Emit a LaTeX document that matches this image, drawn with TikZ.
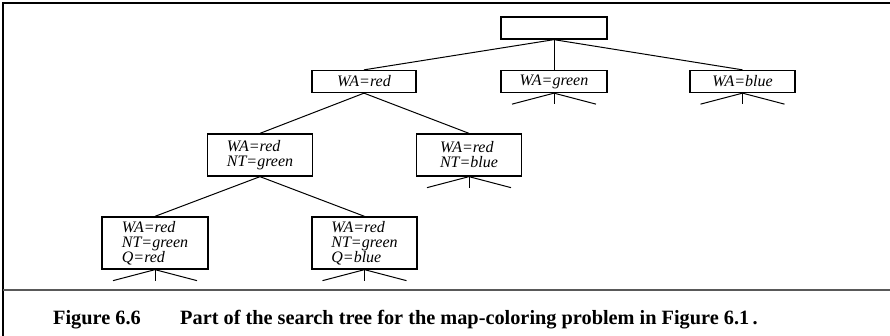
\documentclass[tikz,border=0pt]{standalone}
\usepackage{fontspec}
\setmainfont{Liberation Serif}
\usetikzlibrary{calc}
\begin{document}
\begin{tikzpicture}[x=1pt,y=-1pt,
  tbox/.style={draw, line width=1.3pt, inner sep=0pt, font=\fontsize{16}{15}\selectfont\itshape, align=left, minimum width=105pt},
  hone/.style={minimum height=22pt},
  htwo/.style={minimum height=42pt},
  hthree/.style={minimum height=52pt},
  conn/.style={line width=1pt},
  frameline/.style={line width=1.5pt},
  sepline/.style={line width=2.6pt, draw=black!65},
  capfont/.style={font=\fontsize{20.3}{24}\selectfont\bfseries, inner sep=0pt}]
\useasboundingbox (0,0) rectangle (890,336);
% frame
\coordinate (tl) at (3,3);
\coordinate (tr) at (890,3);
\coordinate (bl) at (3,336);
\coordinate (sl) at (3,290);
\coordinate (sr) at (890,290);
\draw[frameline] (tr) -- (tl) -- (bl);
\draw[sepline] (sl) -- (sr);
% nodes
\node[tbox,hone,minimum width=106pt] (root) at (554,28) {};
\node[tbox,hone,minimum width=104pt] (wared) at (364,81.5) {WA=red};
\node[tbox,hone,minimum width=106pt] (wagreen) at (554,81.5) {WA=green};
\node[tbox,hone] (wablue) at (742.5,81.5) {WA=blue};
\node[tbox,htwo] (ntgreen) at (260,155) {WA=red\\NT=green};
\node[tbox,htwo] (ntblue) at (469,155) {WA=red\\NT=blue};
\node[tbox,hthree,minimum width=106pt] (qred) at (155,243) {WA=red\\NT=green\\Q=red};
\node[tbox,hthree] (qblue) at (364.5,243) {WA=red\\NT=green\\Q=blue};
% connectors
\draw[conn] (root.south) -- (wared.north);
\draw[conn] (root.south) -- (wagreen.north);
\draw[conn] (root.south) -- (wablue.north);
\draw[conn] (wared.south) -- (ntgreen.north);
\draw[conn] (wared.south) -- (ntblue.north);
\draw[conn] (ntgreen.south) -- (qred.north);
\draw[conn] (ntgreen.south) -- (qblue.north);
% stubs
\foreach \n in {wagreen,wablue,ntblue,qred,qblue}{
  \coordinate (\n-l) at ($(\n.south)+(-42,11)$);
  \coordinate (\n-m) at ($(\n.south)+(0,11)$);
  \coordinate (\n-r) at ($(\n.south)+(42,11)$);
  \draw[conn] (\n.south) -- (\n-l);
  \draw[conn] (\n.south) -- (\n-m);
  \draw[conn] (\n.south) -- (\n-r);
}
% caption
\node[capfont,anchor=base west] (figlab) at (53,324) {Figure 6.6};
\node[capfont,anchor=base west] (captext) at (180,324) {Part of the search tree for the map-coloring problem in Figure 6.1\,.};
\end{tikzpicture}
\end{document}
